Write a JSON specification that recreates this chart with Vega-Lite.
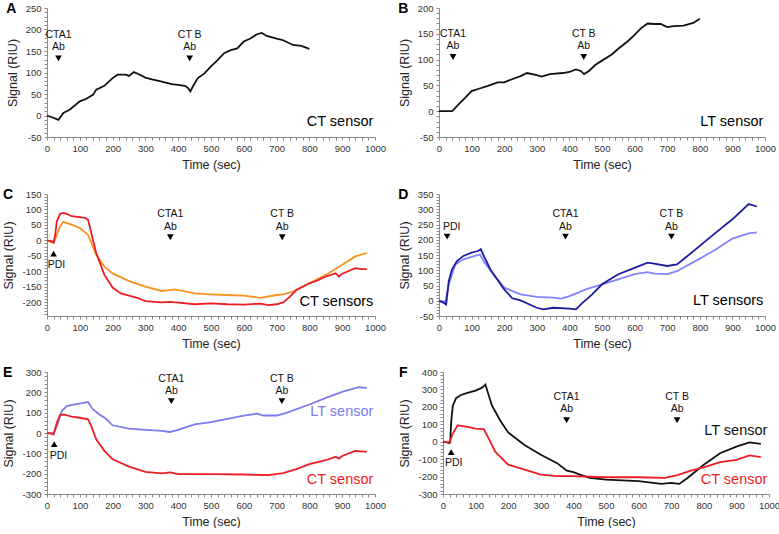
{
"$schema":"https://vega.github.io/schema/vega-lite/v6.json",
"padding":{"left":2,"top":2,"right":0,"bottom":0},
"background":"white",
"config":{
 "view":{"stroke":null},
 "font":"Liberation Sans",
 "axis":{"grid":false,"domainColor":"#8a8a8a","tickColor":"#8a8a8a","tickSize":3,"labelFont":"Liberation Sans","labelFontSize":9.5,"labelColor":"#333","titleFont":"Liberation Sans","titleFontSize":12.5,"titleFontWeight":"normal","titleColor":"#222","labelOverlap":false,"labelFlush":false,"labelPadding":3},
 "axisY":{"titlePadding":6},
 "axisX":{"titlePadding":6},
 "title":{"anchor":"start","frame":"bounds","fontSize":14,"fontWeight":"bold","font":"Liberation Sans","color":"#000","offset":-13},
 "text":{"font":"Liberation Sans"}
},
"resolve":{"scale":{"color":"independent","shape":"independent"}},
"spacing":17,
"datasets":{
 "A":[{"t":0,"s":0},{"t":15,"s":-4},{"t":35,"s":-10},{"t":50,"s":6},{"t":70,"s":14},{"t":100,"s":33},{"t":120,"s":39},{"t":140,"s":48},{"t":150,"s":60},{"t":175,"s":69},{"t":200,"s":87},{"t":215,"s":95},{"t":240,"s":95},{"t":250,"s":92},{"t":265,"s":101},{"t":280,"s":96},{"t":300,"s":88},{"t":320,"s":84},{"t":350,"s":79},{"t":380,"s":73},{"t":400,"s":71},{"t":420,"s":69},{"t":430,"s":64},{"t":437,"s":56},{"t":445,"s":68},{"t":460,"s":87},{"t":480,"s":98},{"t":500,"s":114},{"t":520,"s":129},{"t":540,"s":145},{"t":560,"s":152},{"t":580,"s":156},{"t":600,"s":172},{"t":620,"s":179},{"t":640,"s":189},{"t":655,"s":192},{"t":670,"s":185},{"t":700,"s":179},{"t":720,"s":175},{"t":750,"s":164},{"t":775,"s":162},{"t":790,"s":158},{"t":800,"s":155}],
 "B":[{"t":0,"s":0},{"t":20,"s":0},{"t":40,"s":0},{"t":45,"s":3},{"t":60,"s":13},{"t":80,"s":26},{"t":100,"s":39},{"t":120,"s":43},{"t":150,"s":49},{"t":180,"s":56},{"t":200,"s":56},{"t":220,"s":61},{"t":250,"s":68},{"t":270,"s":74},{"t":300,"s":70},{"t":315,"s":67},{"t":340,"s":72},{"t":380,"s":74},{"t":400,"s":76},{"t":420,"s":81},{"t":435,"s":78},{"t":445,"s":72},{"t":460,"s":78},{"t":480,"s":90},{"t":500,"s":98},{"t":530,"s":110},{"t":550,"s":121},{"t":580,"s":136},{"t":600,"s":148},{"t":620,"s":161},{"t":640,"s":170},{"t":660,"s":169},{"t":680,"s":169},{"t":700,"s":163},{"t":720,"s":165},{"t":750,"s":166},{"t":780,"s":171},{"t":800,"s":179}],
 "C":[
  {"series":"CT2","t":0,"s":0},{"series":"CT2","t":20,"s":-9},{"series":"CT2","t":30,"s":18},{"series":"CT2","t":40,"s":46},{"series":"CT2","t":50,"s":60},{"series":"CT2","t":75,"s":51},{"series":"CT2","t":100,"s":40},{"series":"CT2","t":125,"s":18},{"series":"CT2","t":150,"s":-47},{"series":"CT2","t":175,"s":-85},{"series":"CT2","t":200,"s":-107},{"series":"CT2","t":250,"s":-132},{"series":"CT2","t":300,"s":-150},{"series":"CT2","t":350,"s":-164},{"series":"CT2","t":375,"s":-161},{"series":"CT2","t":390,"s":-159},{"series":"CT2","t":425,"s":-166},{"series":"CT2","t":450,"s":-172},{"series":"CT2","t":500,"s":-175},{"series":"CT2","t":550,"s":-177},{"series":"CT2","t":600,"s":-179},{"series":"CT2","t":650,"s":-186},{"series":"CT2","t":700,"s":-177},{"series":"CT2","t":720,"s":-175},{"series":"CT2","t":750,"s":-166},{"series":"CT2","t":780,"s":-150},{"series":"CT2","t":800,"s":-139},{"series":"CT2","t":850,"s":-112},{"series":"CT2","t":900,"s":-79},{"series":"CT2","t":940,"s":-52},{"series":"CT2","t":975,"s":-41},
  {"series":"CT1","t":0,"s":0},{"series":"CT1","t":15,"s":-3},{"series":"CT1","t":20,"s":-7},{"series":"CT1","t":25,"s":18},{"series":"CT1","t":30,"s":62},{"series":"CT1","t":40,"s":86},{"series":"CT1","t":50,"s":89},{"series":"CT1","t":60,"s":86},{"series":"CT1","t":75,"s":78},{"series":"CT1","t":100,"s":75},{"series":"CT1","t":115,"s":73},{"series":"CT1","t":125,"s":67},{"series":"CT1","t":135,"s":24},{"series":"CT1","t":150,"s":-41},{"series":"CT1","t":175,"s":-112},{"series":"CT1","t":200,"s":-153},{"series":"CT1","t":225,"s":-172},{"series":"CT1","t":250,"s":-179},{"series":"CT1","t":275,"s":-186},{"series":"CT1","t":300,"s":-197},{"series":"CT1","t":350,"s":-201},{"series":"CT1","t":375,"s":-199},{"series":"CT1","t":400,"s":-202},{"series":"CT1","t":450,"s":-207},{"series":"CT1","t":500,"s":-204},{"series":"CT1","t":550,"s":-207},{"series":"CT1","t":600,"s":-208},{"series":"CT1","t":650,"s":-205},{"series":"CT1","t":675,"s":-210},{"series":"CT1","t":700,"s":-207},{"series":"CT1","t":720,"s":-201},{"series":"CT1","t":740,"s":-183},{"series":"CT1","t":760,"s":-161},{"series":"CT1","t":800,"s":-139},{"series":"CT1","t":820,"s":-132},{"series":"CT1","t":850,"s":-117},{"series":"CT1","t":880,"s":-107},{"series":"CT1","t":890,"s":-117},{"series":"CT1","t":900,"s":-108},{"series":"CT1","t":940,"s":-90},{"series":"CT1","t":960,"s":-93},{"series":"CT1","t":975,"s":-93}],
 "D":[
  {"series":"LT2","t":0,"s":0},{"series":"LT2","t":20,"s":-3},{"series":"LT2","t":30,"s":54},{"series":"LT2","t":50,"s":119},{"series":"LT2","t":75,"s":136},{"series":"LT2","t":100,"s":144},{"series":"LT2","t":125,"s":152},{"series":"LT2","t":140,"s":125},{"series":"LT2","t":175,"s":76},{"series":"LT2","t":200,"s":43},{"series":"LT2","t":250,"s":21},{"series":"LT2","t":300,"s":13},{"series":"LT2","t":350,"s":10},{"series":"LT2","t":375,"s":7},{"series":"LT2","t":400,"s":15},{"series":"LT2","t":425,"s":26},{"series":"LT2","t":450,"s":37},{"series":"LT2","t":500,"s":54},{"series":"LT2","t":550,"s":70},{"series":"LT2","t":600,"s":87},{"series":"LT2","t":640,"s":94},{"series":"LT2","t":660,"s":89},{"series":"LT2","t":700,"s":87},{"series":"LT2","t":730,"s":97},{"series":"LT2","t":800,"s":138},{"series":"LT2","t":850,"s":169},{"series":"LT2","t":900,"s":204},{"series":"LT2","t":950,"s":221},{"series":"LT2","t":975,"s":224},
  {"series":"LT1","t":0,"s":0},{"series":"LT1","t":15,"s":-7},{"series":"LT1","t":22,"s":-12},{"series":"LT1","t":30,"s":65},{"series":"LT1","t":40,"s":103},{"series":"LT1","t":55,"s":130},{"series":"LT1","t":75,"s":147},{"series":"LT1","t":100,"s":158},{"series":"LT1","t":120,"s":163},{"series":"LT1","t":128,"s":169},{"series":"LT1","t":140,"s":141},{"series":"LT1","t":160,"s":98},{"series":"LT1","t":200,"s":37},{"series":"LT1","t":225,"s":8},{"series":"LT1","t":250,"s":1},{"series":"LT1","t":300,"s":-23},{"series":"LT1","t":320,"s":-28},{"series":"LT1","t":350,"s":-23},{"series":"LT1","t":400,"s":-26},{"series":"LT1","t":420,"s":-28},{"series":"LT1","t":440,"s":-7},{"series":"LT1","t":470,"s":21},{"series":"LT1","t":500,"s":54},{"series":"LT1","t":550,"s":87},{"series":"LT1","t":600,"s":108},{"series":"LT1","t":640,"s":125},{"series":"LT1","t":660,"s":122},{"series":"LT1","t":700,"s":114},{"series":"LT1","t":730,"s":119},{"series":"LT1","t":750,"s":136},{"series":"LT1","t":800,"s":180},{"series":"LT1","t":850,"s":224},{"series":"LT1","t":900,"s":267},{"series":"LT1","t":950,"s":317},{"series":"LT1","t":975,"s":309}],
 "E":[
  {"series":"LT sensor","t":0,"s":0},{"series":"LT sensor","t":20,"s":-2},{"series":"LT sensor","t":30,"s":34},{"series":"LT sensor","t":45,"s":108},{"series":"LT sensor","t":60,"s":132},{"series":"LT sensor","t":80,"s":140},{"series":"LT sensor","t":100,"s":145},{"series":"LT sensor","t":125,"s":152},{"series":"LT sensor","t":140,"s":116},{"series":"LT sensor","t":160,"s":91},{"series":"LT sensor","t":180,"s":70},{"series":"LT sensor","t":200,"s":38},{"series":"LT sensor","t":250,"s":21},{"series":"LT sensor","t":300,"s":15},{"series":"LT sensor","t":350,"s":10},{"series":"LT sensor","t":375,"s":5},{"series":"LT sensor","t":400,"s":15},{"series":"LT sensor","t":420,"s":26},{"series":"LT sensor","t":450,"s":42},{"series":"LT sensor","t":500,"s":54},{"series":"LT sensor","t":550,"s":70},{"series":"LT sensor","t":600,"s":86},{"series":"LT sensor","t":640,"s":95},{"series":"LT sensor","t":660,"s":86},{"series":"LT sensor","t":700,"s":86},{"series":"LT sensor","t":730,"s":99},{"series":"LT sensor","t":800,"s":140},{"series":"LT sensor","t":850,"s":173},{"series":"LT sensor","t":900,"s":202},{"series":"LT sensor","t":950,"s":225},{"series":"LT sensor","t":975,"s":222},
  {"series":"CT sensor","t":0,"s":0},{"series":"CT sensor","t":15,"s":-3},{"series":"CT sensor","t":20,"s":-7},{"series":"CT sensor","t":30,"s":51},{"series":"CT sensor","t":40,"s":88},{"series":"CT sensor","t":50,"s":91},{"series":"CT sensor","t":75,"s":80},{"series":"CT sensor","t":100,"s":75},{"series":"CT sensor","t":125,"s":67},{"series":"CT sensor","t":135,"s":34},{"series":"CT sensor","t":150,"s":-31},{"series":"CT sensor","t":175,"s":-88},{"series":"CT sensor","t":200,"s":-129},{"series":"CT sensor","t":250,"s":-165},{"series":"CT sensor","t":300,"s":-191},{"series":"CT sensor","t":350,"s":-199},{"series":"CT sensor","t":375,"s":-194},{"series":"CT sensor","t":400,"s":-202},{"series":"CT sensor","t":500,"s":-202},{"series":"CT sensor","t":600,"s":-204},{"series":"CT sensor","t":675,"s":-207},{"series":"CT sensor","t":720,"s":-197},{"series":"CT sensor","t":760,"s":-178},{"series":"CT sensor","t":800,"s":-153},{"series":"CT sensor","t":850,"s":-134},{"series":"CT sensor","t":880,"s":-117},{"series":"CT sensor","t":890,"s":-126},{"series":"CT sensor","t":900,"s":-113},{"series":"CT sensor","t":940,"s":-88},{"series":"CT sensor","t":975,"s":-93}],
 "F":[
  {"series":"LT sensor","t":0,"s":0},{"series":"LT sensor","t":20,"s":-8},{"series":"LT sensor","t":22,"s":-4},{"series":"LT sensor","t":25,"s":110},{"series":"LT sensor","t":30,"s":205},{"series":"LT sensor","t":40,"s":250},{"series":"LT sensor","t":55,"s":268},{"series":"LT sensor","t":75,"s":280},{"series":"LT sensor","t":100,"s":293},{"series":"LT sensor","t":120,"s":310},{"series":"LT sensor","t":130,"s":328},{"series":"LT sensor","t":150,"s":208},{"series":"LT sensor","t":175,"s":123},{"series":"LT sensor","t":200,"s":53},{"series":"LT sensor","t":250,"s":-19},{"series":"LT sensor","t":300,"s":-75},{"series":"LT sensor","t":350,"s":-123},{"series":"LT sensor","t":380,"s":-166},{"series":"LT sensor","t":400,"s":-175},{"series":"LT sensor","t":420,"s":-189},{"series":"LT sensor","t":450,"s":-208},{"series":"LT sensor","t":500,"s":-217},{"series":"LT sensor","t":600,"s":-226},{"series":"LT sensor","t":670,"s":-242},{"series":"LT sensor","t":700,"s":-236},{"series":"LT sensor","t":725,"s":-242},{"series":"LT sensor","t":750,"s":-208},{"series":"LT sensor","t":800,"s":-132},{"series":"LT sensor","t":850,"s":-66},{"series":"LT sensor","t":900,"s":-28},{"series":"LT sensor","t":940,"s":-4},{"series":"LT sensor","t":975,"s":-13},
  {"series":"CT sensor","t":0,"s":0},{"series":"CT sensor","t":20,"s":-4},{"series":"CT sensor","t":30,"s":47},{"series":"CT sensor","t":45,"s":94},{"series":"CT sensor","t":75,"s":85},{"series":"CT sensor","t":100,"s":75},{"series":"CT sensor","t":125,"s":72},{"series":"CT sensor","t":140,"s":19},{"series":"CT sensor","t":160,"s":-57},{"series":"CT sensor","t":200,"s":-132},{"series":"CT sensor","t":250,"s":-160},{"series":"CT sensor","t":300,"s":-189},{"series":"CT sensor","t":350,"s":-198},{"series":"CT sensor","t":400,"s":-198},{"series":"CT sensor","t":500,"s":-204},{"series":"CT sensor","t":600,"s":-204},{"series":"CT sensor","t":680,"s":-208},{"series":"CT sensor","t":720,"s":-192},{"series":"CT sensor","t":760,"s":-166},{"series":"CT sensor","t":800,"s":-147},{"series":"CT sensor","t":850,"s":-117},{"series":"CT sensor","t":900,"s":-104},{"series":"CT sensor","t":940,"s":-79},{"series":"CT sensor","t":975,"s":-89}],
 "notes":[
  {"panel":"A","t":35,"s":188,"text":"CTA1"},{"panel":"A","t":35,"s":160,"text":"Ab"},{"panel":"A","t":435,"s":188,"text":"CT B"},{"panel":"A","t":435,"s":160,"text":"Ab"},
  {"panel":"B","t":43,"s":150,"text":"CTA1"},{"panel":"B","t":43,"s":126,"text":"Ab"},{"panel":"B","t":444,"s":150,"text":"CT B"},{"panel":"B","t":444,"s":126,"text":"Ab"},
  {"panel":"C","t":376,"s":84,"text":"CTA1"},{"panel":"C","t":376,"s":43,"text":"Ab"},{"panel":"C","t":717,"s":84,"text":"CT B"},{"panel":"C","t":717,"s":43,"text":"Ab"},{"panel":"C","t":29,"s":-79,"text":"PDI"},
  {"panel":"D","t":388,"s":284,"text":"CTA1"},{"panel":"D","t":388,"s":243,"text":"Ab"},{"panel":"D","t":713,"s":284,"text":"CT B"},{"panel":"D","t":713,"s":243,"text":"Ab"},{"panel":"D","t":39,"s":242,"text":"PDI"},
  {"panel":"E","t":379,"s":267,"text":"CTA1"},{"panel":"E","t":379,"s":209,"text":"Ab"},{"panel":"E","t":716,"s":267,"text":"CT B"},{"panel":"E","t":716,"s":209,"text":"Ab"},{"panel":"E","t":35,"s":-112,"text":"PDI"},
  {"panel":"F","t":379,"s":255,"text":"CTA1"},{"panel":"F","t":379,"s":189,"text":"Ab"},{"panel":"F","t":718,"s":255,"text":"CT B"},{"panel":"F","t":718,"s":189,"text":"Ab"},{"panel":"F","t":33,"s":-123,"text":"PDI"}],
 "tri":[
  {"panel":"A","t":35,"s":133,"dir":"down"},{"panel":"A","t":435,"s":133,"dir":"down"},
  {"panel":"B","t":43,"s":105,"dir":"down"},{"panel":"B","t":444,"s":105,"dir":"down"},
  {"panel":"C","t":20,"s":-43,"dir":"up"},{"panel":"C","t":376,"s":10,"dir":"down"},{"panel":"C","t":717,"s":10,"dir":"down"},
  {"panel":"D","t":25,"s":210,"dir":"down"},{"panel":"D","t":388,"s":210,"dir":"down"},{"panel":"D","t":713,"s":210,"dir":"down"},
  {"panel":"E","t":22,"s":-55,"dir":"up"},{"panel":"E","t":379,"s":157,"dir":"down"},{"panel":"E","t":716,"s":157,"dir":"down"},
  {"panel":"F","t":25,"s":-60,"dir":"up"},{"panel":"F","t":379,"s":123,"dir":"down"},{"panel":"F","t":718,"s":123,"dir":"down"}],
 "sensors":[
  {"panel":"A","t":995,"s":-15,"text":"CT sensor","series":"none"},
  {"panel":"B","t":995,"s":-20,"text":"LT sensor","series":"none"},
  {"panel":"C","t":995,"s":-201,"text":"CT sensors","series":"none"},
  {"panel":"D","t":995,"s":-1,"text":"LT sensors","series":"none"},
  {"panel":"E","t":995,"s":104,"text":"LT sensor","series":"LT sensor"},{"panel":"E","t":995,"s":-231,"text":"CT sensor","series":"CT sensor"},
  {"panel":"F","t":995,"s":60,"text":"LT sensor","series":"LT sensor"},{"panel":"F","t":995,"s":-217,"text":"CT sensor","series":"CT sensor"}]
},
"vconcat":[
 {"resolve":{"scale":{"color":"independent","shape":"independent"}},"spacing":12,"hconcat":[
  {"width":328,"height":129,"title":{"text":"A"},
   "layer":[
    {"data":{"name":"A"},"mark":{"type":"line","color":"#111","strokeWidth":1.8},
     "encoding":{"x":{"field":"t","type":"quantitative","scale":{"domain":[0,1000],"nice":false},"axis":{"title":"Time (sec)","tickCount":500,"values":[0,20,40,60,80,100,120,140,160,180,200,220,240,260,280,300,320,340,360,380,400,420,440,460,480,500,520,540,560,580,600,620,640,660,680,700,720,740,760,780,800,820,840,860,880,900,920,940,960,980,1000],"labelExpr":"datum.value % 100 === 0 ? '' + datum.value : ''"}},
      "y":{"field":"s","type":"quantitative","scale":{"domain":[-50,250],"nice":false},"axis":{"title":"Signal (RIU)","tickCount":500,"values":[-50,-40,-30,-20,-10,0,10,20,30,40,50,60,70,80,90,100,110,120,130,140,150,160,170,180,190,200,210,220,230,240,250],"labelExpr":"datum.value % 50 === 0 ? '' + datum.value : ''"}}}},
    {"data":{"name":"notes"},"transform":[{"filter":"datum.panel === 'A'"}],"mark":{"type":"text","fontSize":10.5,"color":"#111"},"encoding":{"x":{"field":"t","type":"quantitative"},"y":{"field":"s","type":"quantitative"},"text":{"field":"text"}}},
    {"data":{"name":"tri"},"transform":[{"filter":"datum.panel === 'A'"}],"mark":{"type":"point","filled":true,"color":"#000","size":45,"opacity":1},"encoding":{"x":{"field":"t","type":"quantitative"},"y":{"field":"s","type":"quantitative"},"shape":{"field":"dir","type":"nominal","scale":{"domain":["down","up"],"range":["triangle-down","triangle-up"]},"legend":null}}},
    {"data":{"name":"sensors"},"transform":[{"filter":"datum.panel === 'A'"}],"mark":{"type":"text","fontSize":14.5,"align":"right","color":"#000"},"encoding":{"x":{"field":"t","type":"quantitative"},"y":{"field":"s","type":"quantitative"},"text":{"field":"text"}}}
   ]},
  {"width":326,"height":129,"title":{"text":"B"},
   "layer":[
    {"data":{"name":"B"},"mark":{"type":"line","color":"#111","strokeWidth":1.8},
     "encoding":{"x":{"field":"t","type":"quantitative","scale":{"domain":[0,1000],"nice":false},"axis":{"title":"Time (sec)","tickCount":500,"values":[0,20,40,60,80,100,120,140,160,180,200,220,240,260,280,300,320,340,360,380,400,420,440,460,480,500,520,540,560,580,600,620,640,660,680,700,720,740,760,780,800,820,840,860,880,900,920,940,960,980,1000],"labelExpr":"datum.value % 100 === 0 ? '' + datum.value : ''"}},
      "y":{"field":"s","type":"quantitative","scale":{"domain":[-50,200],"nice":false},"axis":{"title":"Signal (RIU)","tickCount":500,"values":[-50,-40,-30,-20,-10,0,10,20,30,40,50,60,70,80,90,100,110,120,130,140,150,160,170,180,190,200],"labelExpr":"datum.value % 50 === 0 ? '' + datum.value : ''"}}}},
    {"data":{"name":"notes"},"transform":[{"filter":"datum.panel === 'B'"}],"mark":{"type":"text","fontSize":10.5,"color":"#111"},"encoding":{"x":{"field":"t","type":"quantitative"},"y":{"field":"s","type":"quantitative"},"text":{"field":"text"}}},
    {"data":{"name":"tri"},"transform":[{"filter":"datum.panel === 'B'"}],"mark":{"type":"point","filled":true,"color":"#000","size":45,"opacity":1},"encoding":{"x":{"field":"t","type":"quantitative"},"y":{"field":"s","type":"quantitative"},"shape":{"field":"dir","type":"nominal","scale":{"domain":["down","up"],"range":["triangle-down","triangle-up"]},"legend":null}}},
    {"data":{"name":"sensors"},"transform":[{"filter":"datum.panel === 'B'"}],"mark":{"type":"text","fontSize":14.5,"align":"right","color":"#000"},"encoding":{"x":{"field":"t","type":"quantitative"},"y":{"field":"s","type":"quantitative"},"text":{"field":"text"}}}
   ]}
 ]},
 {"resolve":{"scale":{"color":"independent","shape":"independent"}},"spacing":16,"vconcat":[
 {"resolve":{"scale":{"color":"independent","shape":"independent"}},"spacing":12,"hconcat":[
  {"width":328,"height":122,"title":{"text":"C"},
   "layer":[
    {"data":{"name":"C"},"mark":{"type":"line","strokeWidth":1.8},
     "encoding":{"x":{"field":"t","type":"quantitative","scale":{"domain":[0,1000],"nice":false},"axis":{"title":"Time (sec)","tickCount":500,"values":[0,20,40,60,80,100,120,140,160,180,200,220,240,260,280,300,320,340,360,380,400,420,440,460,480,500,520,540,560,580,600,620,640,660,680,700,720,740,760,780,800,820,840,860,880,900,920,940,960,980,1000],"labelExpr":"datum.value % 100 === 0 ? '' + datum.value : ''"}},
      "y":{"field":"s","type":"quantitative","scale":{"domain":[-245,150],"nice":false},"axis":{"title":"Signal (RIU)","tickCount":500,"values":[-240,-230,-220,-210,-200,-190,-180,-170,-160,-150,-140,-130,-120,-110,-100,-90,-80,-70,-60,-50,-40,-30,-20,-10,0,10,20,30,40,50,60,70,80,90,100,110,120,130,140,150],"labelExpr":"datum.value % 50 === 0 ? '' + datum.value : ''"}},
      "color":{"field":"series","type":"nominal","scale":{"domain":["CT2","CT1"],"range":["#f7941d","#ee1c24"]},"legend":null}}},
    {"data":{"name":"notes"},"transform":[{"filter":"datum.panel === 'C'"}],"mark":{"type":"text","fontSize":10.5,"color":"#111"},"encoding":{"x":{"field":"t","type":"quantitative"},"y":{"field":"s","type":"quantitative"},"text":{"field":"text"}}},
    {"data":{"name":"tri"},"transform":[{"filter":"datum.panel === 'C'"}],"mark":{"type":"point","filled":true,"color":"#000","size":45,"opacity":1},"encoding":{"x":{"field":"t","type":"quantitative"},"y":{"field":"s","type":"quantitative"},"shape":{"field":"dir","type":"nominal","scale":{"domain":["down","up"],"range":["triangle-down","triangle-up"]},"legend":null}}},
    {"data":{"name":"sensors"},"transform":[{"filter":"datum.panel === 'C'"}],"mark":{"type":"text","fontSize":14.5,"align":"right","color":"#000"},"encoding":{"x":{"field":"t","type":"quantitative"},"y":{"field":"s","type":"quantitative"},"text":{"field":"text"}}}
   ]},
  {"width":326,"height":122,"title":{"text":"D"},
   "layer":[
    {"data":{"name":"D"},"mark":{"type":"line","strokeWidth":1.8},
     "encoding":{"x":{"field":"t","type":"quantitative","scale":{"domain":[0,1000],"nice":false},"axis":{"title":"Time (sec)","tickCount":500,"values":[0,20,40,60,80,100,120,140,160,180,200,220,240,260,280,300,320,340,360,380,400,420,440,460,480,500,520,540,560,580,600,620,640,660,680,700,720,740,760,780,800,820,840,860,880,900,920,940,960,980,1000],"labelExpr":"datum.value % 100 === 0 ? '' + datum.value : ''"}},
      "y":{"field":"s","type":"quantitative","scale":{"domain":[-50,350],"nice":false},"axis":{"title":"Signal (RIU)","tickCount":500,"values":[-50,-40,-30,-20,-10,0,10,20,30,40,50,60,70,80,90,100,110,120,130,140,150,160,170,180,190,200,210,220,230,240,250,260,270,280,290,300,310,320,330,340,350],"labelExpr":"datum.value % 50 === 0 ? '' + datum.value : ''"}},
      "color":{"field":"series","type":"nominal","scale":{"domain":["LT2","LT1"],"range":["#8383ff","#1b1b9c"]},"legend":null}}},
    {"data":{"name":"notes"},"transform":[{"filter":"datum.panel === 'D'"}],"mark":{"type":"text","fontSize":10.5,"color":"#111"},"encoding":{"x":{"field":"t","type":"quantitative"},"y":{"field":"s","type":"quantitative"},"text":{"field":"text"}}},
    {"data":{"name":"tri"},"transform":[{"filter":"datum.panel === 'D'"}],"mark":{"type":"point","filled":true,"color":"#000","size":45,"opacity":1},"encoding":{"x":{"field":"t","type":"quantitative"},"y":{"field":"s","type":"quantitative"},"shape":{"field":"dir","type":"nominal","scale":{"domain":["down","up"],"range":["triangle-down","triangle-up"]},"legend":null}}},
    {"data":{"name":"sensors"},"transform":[{"filter":"datum.panel === 'D'"}],"mark":{"type":"text","fontSize":14.5,"align":"right","color":"#000"},"encoding":{"x":{"field":"t","type":"quantitative"},"y":{"field":"s","type":"quantitative"},"text":{"field":"text"}}}
   ]}
 ]},
 {"resolve":{"scale":{"color":"independent","shape":"independent"}},"spacing":12,"hconcat":[
  {"width":328,"height":122,"title":{"text":"E"},
   "layer":[
    {"data":{"name":"E"},"mark":{"type":"line","strokeWidth":1.8},
     "encoding":{"x":{"field":"t","type":"quantitative","scale":{"domain":[0,1000],"nice":false},"axis":{"title":"Time (sec)","tickCount":500,"values":[0,20,40,60,80,100,120,140,160,180,200,220,240,260,280,300,320,340,360,380,400,420,440,460,480,500,520,540,560,580,600,620,640,660,680,700,720,740,760,780,800,820,840,860,880,900,920,940,960,980,1000],"labelExpr":"datum.value % 100 === 0 ? '' + datum.value : ''"}},
      "y":{"field":"s","type":"quantitative","scale":{"domain":[-300,300],"nice":false},"axis":{"title":"Signal (RIU)","tickCount":500,"values":[-300,-280,-260,-240,-220,-200,-180,-160,-140,-120,-100,-80,-60,-40,-20,0,20,40,60,80,100,120,140,160,180,200,220,240,260,280,300],"labelExpr":"datum.value % 100 === 0 ? '' + datum.value : ''"}},
      "color":{"field":"series","type":"nominal","scale":{"domain":["LT sensor","CT sensor"],"range":["#7b7bf0","#ee1c24"]},"legend":null}}},
    {"data":{"name":"notes"},"transform":[{"filter":"datum.panel === 'E'"}],"mark":{"type":"text","fontSize":10.5,"color":"#111"},"encoding":{"x":{"field":"t","type":"quantitative"},"y":{"field":"s","type":"quantitative"},"text":{"field":"text"}}},
    {"data":{"name":"tri"},"transform":[{"filter":"datum.panel === 'E'"}],"mark":{"type":"point","filled":true,"color":"#000","size":45,"opacity":1},"encoding":{"x":{"field":"t","type":"quantitative"},"y":{"field":"s","type":"quantitative"},"shape":{"field":"dir","type":"nominal","scale":{"domain":["down","up"],"range":["triangle-down","triangle-up"]},"legend":null}}},
    {"data":{"name":"sensors"},"transform":[{"filter":"datum.panel === 'E'"}],"mark":{"type":"text","fontSize":14.5,"align":"right"},"encoding":{"x":{"field":"t","type":"quantitative"},"y":{"field":"s","type":"quantitative"},"text":{"field":"text"},"color":{"field":"series","type":"nominal","legend":null}}}
   ]},
  {"width":326,"height":122,"title":{"text":"F"},
   "layer":[
    {"data":{"name":"F"},"mark":{"type":"line","strokeWidth":1.8},
     "encoding":{"x":{"field":"t","type":"quantitative","scale":{"domain":[0,1000],"nice":false},"axis":{"title":"Time (sec)","tickCount":500,"values":[0,20,40,60,80,100,120,140,160,180,200,220,240,260,280,300,320,340,360,380,400,420,440,460,480,500,520,540,560,580,600,620,640,660,680,700,720,740,760,780,800,820,840,860,880,900,920,940,960,980,1000],"labelExpr":"datum.value % 100 === 0 ? '' + datum.value : ''"}},
      "y":{"field":"s","type":"quantitative","scale":{"domain":[-300,400],"nice":false},"axis":{"title":"Signal (RIU)","tickCount":500,"values":[-300,-280,-260,-240,-220,-200,-180,-160,-140,-120,-100,-80,-60,-40,-20,0,20,40,60,80,100,120,140,160,180,200,220,240,260,280,300,320,340,360,380,400],"labelExpr":"datum.value % 100 === 0 ? '' + datum.value : ''"}},
      "color":{"field":"series","type":"nominal","scale":{"domain":["LT sensor","CT sensor"],"range":["#111111","#ee1c24"]},"legend":null}}},
    {"data":{"name":"notes"},"transform":[{"filter":"datum.panel === 'F'"}],"mark":{"type":"text","fontSize":10.5,"color":"#111"},"encoding":{"x":{"field":"t","type":"quantitative"},"y":{"field":"s","type":"quantitative"},"text":{"field":"text"}}},
    {"data":{"name":"tri"},"transform":[{"filter":"datum.panel === 'F'"}],"mark":{"type":"point","filled":true,"color":"#000","size":45,"opacity":1},"encoding":{"x":{"field":"t","type":"quantitative"},"y":{"field":"s","type":"quantitative"},"shape":{"field":"dir","type":"nominal","scale":{"domain":["down","up"],"range":["triangle-down","triangle-up"]},"legend":null}}},
    {"data":{"name":"sensors"},"transform":[{"filter":"datum.panel === 'F'"}],"mark":{"type":"text","fontSize":14.5,"align":"right"},"encoding":{"x":{"field":"t","type":"quantitative"},"y":{"field":"s","type":"quantitative"},"text":{"field":"text"},"color":{"field":"series","type":"nominal","legend":null}}}
   ]}
 ]}
 ]}
]
}
